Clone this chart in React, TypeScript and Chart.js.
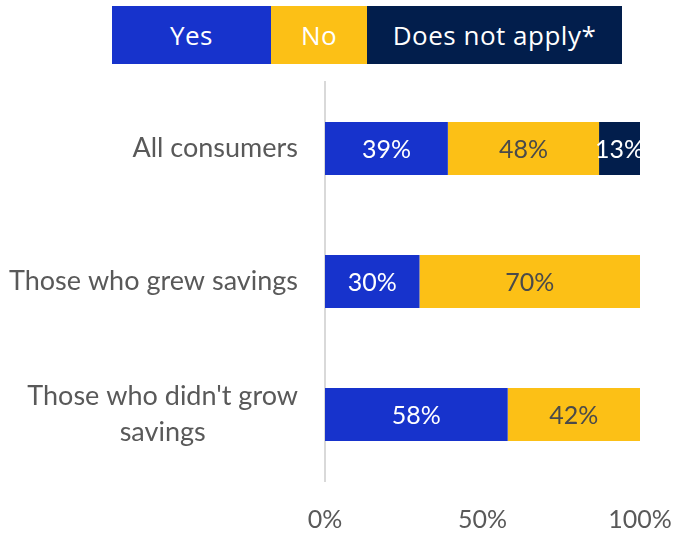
import React, { useEffect, useRef } from "react";
import { Chart, registerables } from "chart.js";

Chart.register(...registerables);

const categories: string[][] = [
  ["All consumers"],
  ["Those who grew savings"],
  ["Those who didn't grow", "savings"],
];
const seriesNames = ["Yes", "No", "Does not apply*"];
const yesValues = [39, 30, 58];
const noValues = [48, 70, 42];
const naValues = [13, 0, 0];
const xTicks = [0, 50, 100];

const colors = ["#1733CC", "#FCC016", "#021E4C"];
const labelColors = ["#FFFFFF", "#4A4A4A", "#FFFFFF"];
const FONT = "Lato, 'Open Sans', sans-serif";

export default function App() {
  const ref = useRef<HTMLCanvasElement | null>(null);

  useEffect(() => {
    if (!ref.current) return;
    const labelsPlugin = {
      id: "customLabels",
      afterDatasetsDraw(chart: any) {
        const ctx = chart.ctx;
        ctx.save();
        ctx.textAlign = "center";
        ctx.textBaseline = "middle";
        ctx.font = `25px ${FONT}`;
        chart.data.datasets.forEach((ds: any, di: number) => {
          const meta = chart.getDatasetMeta(di);
          meta.data.forEach((bar: any, i: number) => {
            const v = ds.data[i];
            if (!v) return;
            const cx = (bar.x + bar.base) / 2;
            ctx.fillStyle = labelColors[di];
            ctx.fillText(`${v}%`, cx, bar.y + 1);
          });
        });
        // category labels
        const yScale = chart.scales.y;
        ctx.font = `27px ${FONT}`;
        ctx.fillStyle = "#595959";
        const rightEdge = chart.chartArea.left - 27;
        const lineH = 36;
        categories.forEach((lines, i) => {
          const cy = yScale.getPixelForValue(i);
          const widths = lines.map((l) => ctx.measureText(l).width);
          const maxW = Math.max(...widths);
          const blockCenter = rightEdge - maxW / 2;
          lines.forEach((l, li) => {
            const y = cy + (li - (lines.length - 1) / 2) * lineH;
            ctx.textAlign = "center";
            ctx.fillText(l, blockCenter, y);
          });
        });
        ctx.restore();
      },
    };

    const chart = new Chart(ref.current, {
      type: "bar",
      data: {
        labels: categories.map((c) => c.join(" ")),
        datasets: [yesValues, noValues, naValues].map((d, i) => ({
          label: seriesNames[i],
          data: d,
          backgroundColor: colors[i],
          borderWidth: 0,
          barPercentage: 0.4,
          categoryPercentage: 1,
        })),
      },
      options: {
        indexAxis: "y",
        responsive: false,
        animation: false,
        layout: { padding: { left: 325, right: 44, top: 82, bottom: 0 } },
        plugins: {
          legend: { display: false },
          tooltip: { enabled: false },
        },
        scales: {
          x: {
            stacked: true,
            min: 0,
            max: 100,
            afterBuildTicks: (scale: any) => {
              scale.ticks = xTicks.map((v) => ({ value: v }));
            },
            afterFit: (scale: any) => {
              scale.height = 52;
              scale.paddingLeft = 0;
              scale.paddingRight = 0;
            },
            grid: { display: false, drawTicks: false },
            border: { display: false },
            ticks: {
              padding: 24,
              color: "#595959",
              font: { family: FONT, size: 25 },
              callback: (v: any) => `${v}%`,
            },
          },
          y: {
            stacked: true,
            grid: { display: false, drawTicks: false },
            border: { display: true, color: "#D9D9D9", width: 2 },
            ticks: { display: false },
          },
        },
      },
      plugins: [labelsPlugin],
    } as any);
    return () => chart.destroy();
  }, []);

  const legendItems = [
    { text: "Yes", left: 112, width: 159, color: colors[0] },
    { text: "No", left: 271, width: 96, color: colors[1] },
    { text: "Does not apply*", left: 367, width: 255, color: colors[2] },
  ];

  return (
    <div style={{ position: "fixed", left: 0, top: 0, width: 684, height: 533, background: "#fff" }}>
      <canvas ref={ref} width={684} height={533} style={{ position: "absolute", left: 0, top: 0 }} />
      {legendItems.map((it) => (
        <div
          key={it.text}
          style={{
            position: "absolute",
            left: it.left,
            top: 6,
            width: it.width,
            height: 58,
            background: it.color,
            color: "#fff",
            fontFamily: "'Open Sans', sans-serif",
            fontSize: 26,
            letterSpacing: 0.5,
            display: "flex",
            alignItems: "center",
            justifyContent: "center",
          }}
        >
          {it.text}
        </div>
      ))}
    </div>
  );
}
